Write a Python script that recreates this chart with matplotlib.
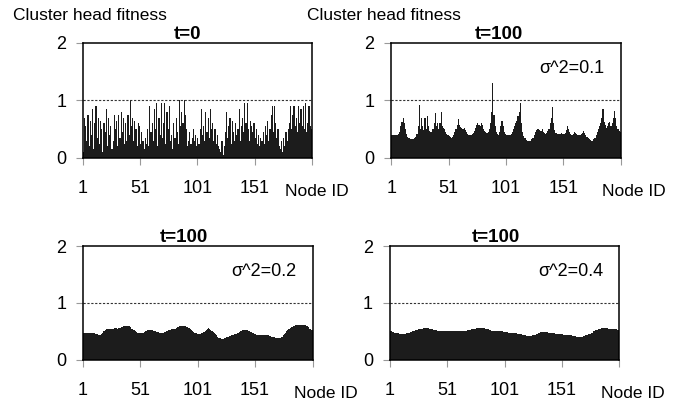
import matplotlib
matplotlib.use('Agg')
import matplotlib.pyplot as plt
import numpy as np

plt.rcParams['font.family'] = ['Liberation Sans', 'DejaVu Sans']

# node ids 1..200
nodes = np.arange(1, 201)

# t=0 fitness per node
fit_t0 = [0.1, 0.7, 0.55, 0.3, 0.75, 0.2, 0.65, 0.4, 0.85, 0.15, 0.6, 0.9, 0.35, 0.7, 0.25, 0.65, 0.5, 0.1, 0.6, 0.45,
          0.85, 0.2, 0.7, 0.4, 0.55, 0.15, 0.3, 0.75, 0.5, 0.65, 0.2, 0.75, 0.35, 0.8, 0.45, 0.7, 0.25, 0.6, 0.3, 0.75,
          0.4, 1.0, 0.55, 0.7, 0.3, 0.65, 0.5, 0.2, 0.6, 0.55, 0.25, 0.45, 0.3, 0.15, 0.35, 0.25, 0.5, 0.2, 0.9, 0.45,
          0.6, 0.3, 0.85, 0.5, 0.95, 0.2, 0.7, 0.4, 0.95, 0.35, 0.6, 0.95, 0.25, 0.8, 0.5, 0.9, 0.3, 0.4, 0.15, 0.6,
          0.35, 0.7, 0.45, 0.25, 1.0, 0.55, 0.8, 0.6, 1.0, 0.75, 0.5, 0.2, 0.3, 0.45, 0.25, 0.35, 0.5, 0.3, 0.4, 0.2,
          0.35, 0.25, 0.5, 0.85, 0.4, 0.55, 0.3, 0.8, 0.45, 0.7, 0.35, 0.85, 0.5, 0.6, 0.3, 0.5, 0.25, 0.4, 0.2, 0.15,
          0.1, 0.3, 0.05, 0.2, 0.45, 0.8, 0.35, 0.55, 0.7, 0.25, 0.65, 0.45, 0.3, 0.6, 0.4, 0.5, 0.85, 0.3, 0.55, 0.7,
          0.45, 0.95, 0.6, 0.95, 0.5, 0.3, 0.65, 0.55, 0.45, 0.6, 0.35, 0.5, 0.25, 0.4, 0.2, 0.35, 0.3, 0.45, 0.25, 0.55,
          0.4, 0.65, 0.3, 0.5, 0.75, 0.9, 0.45, 0.9, 0.6, 0.35, 0.5, 0.2, 0.15, 0.3, 0.1, 0.35, 0.2, 0.45, 0.3, 0.5,
          0.6, 0.9, 0.5, 0.75, 0.9, 0.55, 0.7, 0.45, 0.9, 0.6, 0.85, 0.55, 0.9, 0.5, 0.95, 0.45, 0.6, 0.9, 0.55, 0.5]

# t=100, sigma^2 = 0.1
fit_s01 = [0.4, 0.4, 0.4, 0.4, 0.4, 0.4, 0.41, 0.45, 0.55, 0.62, 0.7, 0.6, 0.5, 0.42, 0.36, 0.34, 0.33, 0.33, 0.33, 0.33,
           0.34, 0.36, 0.42, 0.55, 0.92, 0.5, 0.7, 0.55, 0.48, 0.7, 0.5, 0.73, 0.55, 0.47, 0.45, 0.45, 0.5, 0.6, 0.78, 0.55,
           0.6, 0.5, 0.6, 0.8, 0.55, 0.52, 0.5, 0.45, 0.42, 0.4, 0.38, 0.36, 0.35, 0.36, 0.4, 0.45, 0.5, 0.58, 0.67, 0.58,
           0.53, 0.52, 0.5, 0.52, 0.48, 0.45, 0.42, 0.4, 0.39, 0.4, 0.42, 0.44, 0.47, 0.52, 0.58, 0.6, 0.57, 0.56, 0.6, 0.58,
           0.5, 0.47, 0.45, 0.44, 0.45, 0.5, 0.6, 0.8, 1.3, 0.75, 0.55, 0.45, 0.42, 0.4, 0.45, 0.55, 0.65, 0.55, 0.45, 0.42,
           0.4, 0.39, 0.39, 0.4, 0.42, 0.45, 0.5, 0.55, 0.6, 0.65, 0.72, 0.8, 0.95, 0.6, 0.45, 0.38, 0.34, 0.31, 0.3, 0.29,
           0.29, 0.3, 0.32, 0.35, 0.4, 0.45, 0.48, 0.5, 0.5, 0.48, 0.47, 0.5, 0.45, 0.43, 0.42, 0.44, 0.46, 0.5, 0.6, 0.7,
           0.89, 0.6, 0.48, 0.44, 0.42, 0.41, 0.41, 0.42, 0.43, 0.42, 0.41, 0.44, 0.48, 0.55, 0.5, 0.45, 0.42, 0.4, 0.42, 0.45,
           0.44, 0.42, 0.4, 0.39, 0.4, 0.42, 0.44, 0.46, 0.43, 0.4, 0.37, 0.34, 0.32, 0.31, 0.3, 0.3, 0.32, 0.35, 0.4, 0.45,
           0.5, 0.55, 0.6, 0.7, 0.85, 0.62, 0.58, 0.52, 0.55, 0.6, 0.62, 0.55, 0.6, 0.7, 0.82, 0.7, 0.55, 0.5, 0.47, 0.45]

# t=100, sigma^2 = 0.2
fit_s02 = [0.48, 0.48, 0.48, 0.48, 0.48, 0.48, 0.48, 0.47, 0.47, 0.47, 0.47, 0.46, 0.45, 0.44, 0.43, 0.44, 0.46, 0.48, 0.5, 0.52,
           0.54, 0.55, 0.55, 0.55, 0.55, 0.55, 0.55, 0.56, 0.56, 0.56, 0.55, 0.56, 0.56, 0.57, 0.58, 0.59, 0.6, 0.6, 0.6, 0.6,
           0.59, 0.57, 0.55, 0.54, 0.52, 0.5, 0.49, 0.48, 0.47, 0.47, 0.47, 0.47, 0.48, 0.49, 0.5, 0.51, 0.52, 0.52, 0.52, 0.52,
           0.52, 0.51, 0.5, 0.5, 0.49, 0.49, 0.48, 0.48, 0.48, 0.48, 0.48, 0.49, 0.5, 0.51, 0.52, 0.52, 0.53, 0.54, 0.55, 0.55,
           0.55, 0.56, 0.57, 0.58, 0.59, 0.6, 0.6, 0.6, 0.6, 0.59, 0.58, 0.57, 0.56, 0.54, 0.52, 0.5, 0.49, 0.48, 0.47, 0.46,
           0.45, 0.45, 0.46, 0.47, 0.47, 0.49, 0.51, 0.53, 0.55, 0.56, 0.55, 0.53, 0.51, 0.49, 0.47, 0.45, 0.43, 0.41, 0.39, 0.38,
           0.37, 0.37, 0.37, 0.38, 0.39, 0.4, 0.41, 0.42, 0.42, 0.43, 0.43, 0.44, 0.45, 0.46, 0.47, 0.48, 0.49, 0.5, 0.51, 0.52,
           0.53, 0.53, 0.53, 0.52, 0.51, 0.5, 0.49, 0.48, 0.47, 0.46, 0.45, 0.44, 0.44, 0.44, 0.44, 0.44, 0.44, 0.44, 0.44, 0.44,
           0.43, 0.43, 0.42, 0.42, 0.41, 0.4, 0.4, 0.39, 0.39, 0.38, 0.38, 0.38, 0.39, 0.41, 0.43, 0.45, 0.47, 0.5, 0.53, 0.55,
           0.56, 0.57, 0.58, 0.59, 0.6, 0.61, 0.62, 0.62, 0.62, 0.62, 0.62, 0.62, 0.62, 0.61, 0.6, 0.59, 0.57, 0.55, 0.54, 0.53]

# t=100, sigma^2 = 0.4
fit_s04 = [0.5, 0.5, 0.49, 0.49, 0.48, 0.48, 0.47, 0.47, 0.46, 0.46, 0.46, 0.46, 0.46, 0.46, 0.47, 0.47, 0.48, 0.48, 0.49, 0.5,
           0.51, 0.51, 0.52, 0.53, 0.53, 0.54, 0.54, 0.55, 0.55, 0.56, 0.56, 0.56, 0.56, 0.56, 0.55, 0.55, 0.54, 0.54, 0.53, 0.52,
           0.52, 0.51, 0.51, 0.5, 0.5, 0.5, 0.5, 0.5, 0.5, 0.5, 0.5, 0.5, 0.5, 0.5, 0.5, 0.5, 0.5, 0.5, 0.5, 0.5,
           0.5, 0.5, 0.51, 0.51, 0.51, 0.51, 0.51, 0.52, 0.52, 0.53, 0.53, 0.54, 0.54, 0.55, 0.55, 0.56, 0.56, 0.56, 0.56, 0.56,
           0.56, 0.56, 0.56, 0.55, 0.55, 0.54, 0.53, 0.52, 0.51, 0.51, 0.5, 0.5, 0.5, 0.5, 0.5, 0.5, 0.5, 0.5, 0.5, 0.49,
           0.49, 0.49, 0.49, 0.48, 0.48, 0.48, 0.48, 0.48, 0.48, 0.47, 0.47, 0.46, 0.46, 0.45, 0.45, 0.44, 0.44, 0.43, 0.43, 0.42,
           0.42, 0.42, 0.42, 0.42, 0.43, 0.43, 0.44, 0.45, 0.46, 0.47, 0.48, 0.49, 0.49, 0.49, 0.49, 0.49, 0.49, 0.49, 0.48, 0.48,
           0.48, 0.47, 0.47, 0.47, 0.46, 0.46, 0.46, 0.45, 0.45, 0.45, 0.45, 0.44, 0.44, 0.44, 0.44, 0.44, 0.43, 0.43, 0.43, 0.42,
           0.42, 0.42, 0.41, 0.41, 0.41, 0.41, 0.41, 0.41, 0.42, 0.42, 0.43, 0.43, 0.44, 0.45, 0.46, 0.47, 0.48, 0.5, 0.51, 0.52,
           0.53, 0.54, 0.55, 0.55, 0.56, 0.56, 0.56, 0.56, 0.56, 0.56, 0.55, 0.55, 0.55, 0.55, 0.55, 0.55, 0.54, 0.54, 0.53, 0.53]

titles = ['t=0', 't=100', 't=100', 't=100']
sigma_labels = [None, 'σ^2=0.1', 'σ^2=0.2', 'σ^2=0.4']
tick_labels = ['1', '51', '101', '151', '']
series = [fit_t0, fit_s01, fit_s02, fit_s04]

fig = plt.figure(figsize=(6.96, 4.08), dpi=100)

# axes boxes in figure fractions (left, bottom, width, height)
boxes = [(0.119, 0.613, 0.329, 0.282),
         (0.562, 0.613, 0.330, 0.282),
         (0.119, 0.118, 0.330, 0.279),
         (0.560, 0.118, 0.330, 0.279)]
title_x = [0.455, 0.47, 0.44, 0.46]
nodeid_x = [0.885, 0.92, 0.92, 0.92]

for k in range(4):
    ax = fig.add_axes(boxes[k])
    ax.bar(nodes, series[k], width=1.0, color='#1c1c1c', linewidth=0)
    ax.axhline(1, color='#333333', lw=0.8, ls=(0, (2, 1.5)))
    ax.set_xlim(0.5, 200.5)
    ax.set_ylim(0, 2)
    ax.set_yticks([0, 1, 2])
    ax.set_yticklabels(['0', '1', '2'])
    ax.set_xticks([0.5, 50.5, 100.5, 150.5, 200.5])
    ax.set_xticklabels(tick_labels)
    ax.tick_params(axis='x', direction='out', length=5, width=0.8, color='#999999',
                   labelsize=13, pad=11)
    ax.tick_params(axis='y', direction='out', length=5, width=0.8, color='#999999',
                   labelsize=13, pad=7)
    for sp in ax.spines.values():
        sp.set_linewidth(1.1)
        sp.set_color('black')
    ax.text(title_x[k], 1.035, titles[k], transform=ax.transAxes, ha='center',
            va='baseline', fontsize=13.5, fontweight='bold')
    ax.text(nodeid_x[k], -0.335, 'Node ID', transform=ax.transAxes, ha='left',
            va='baseline', fontsize=12.5)
    if sigma_labels[k]:
        ax.text(0.93, 1.55, sigma_labels[k], transform=ax.get_yaxis_transform(),
                ha='right', va='center', fontsize=13)

fig.text(0.019, 0.951, 'Cluster head fitness', fontsize=12.5, va='baseline')
fig.text(0.441, 0.951, 'Cluster head fitness', fontsize=12.5, va='baseline')

fig.savefig('out.png', dpi=100)
